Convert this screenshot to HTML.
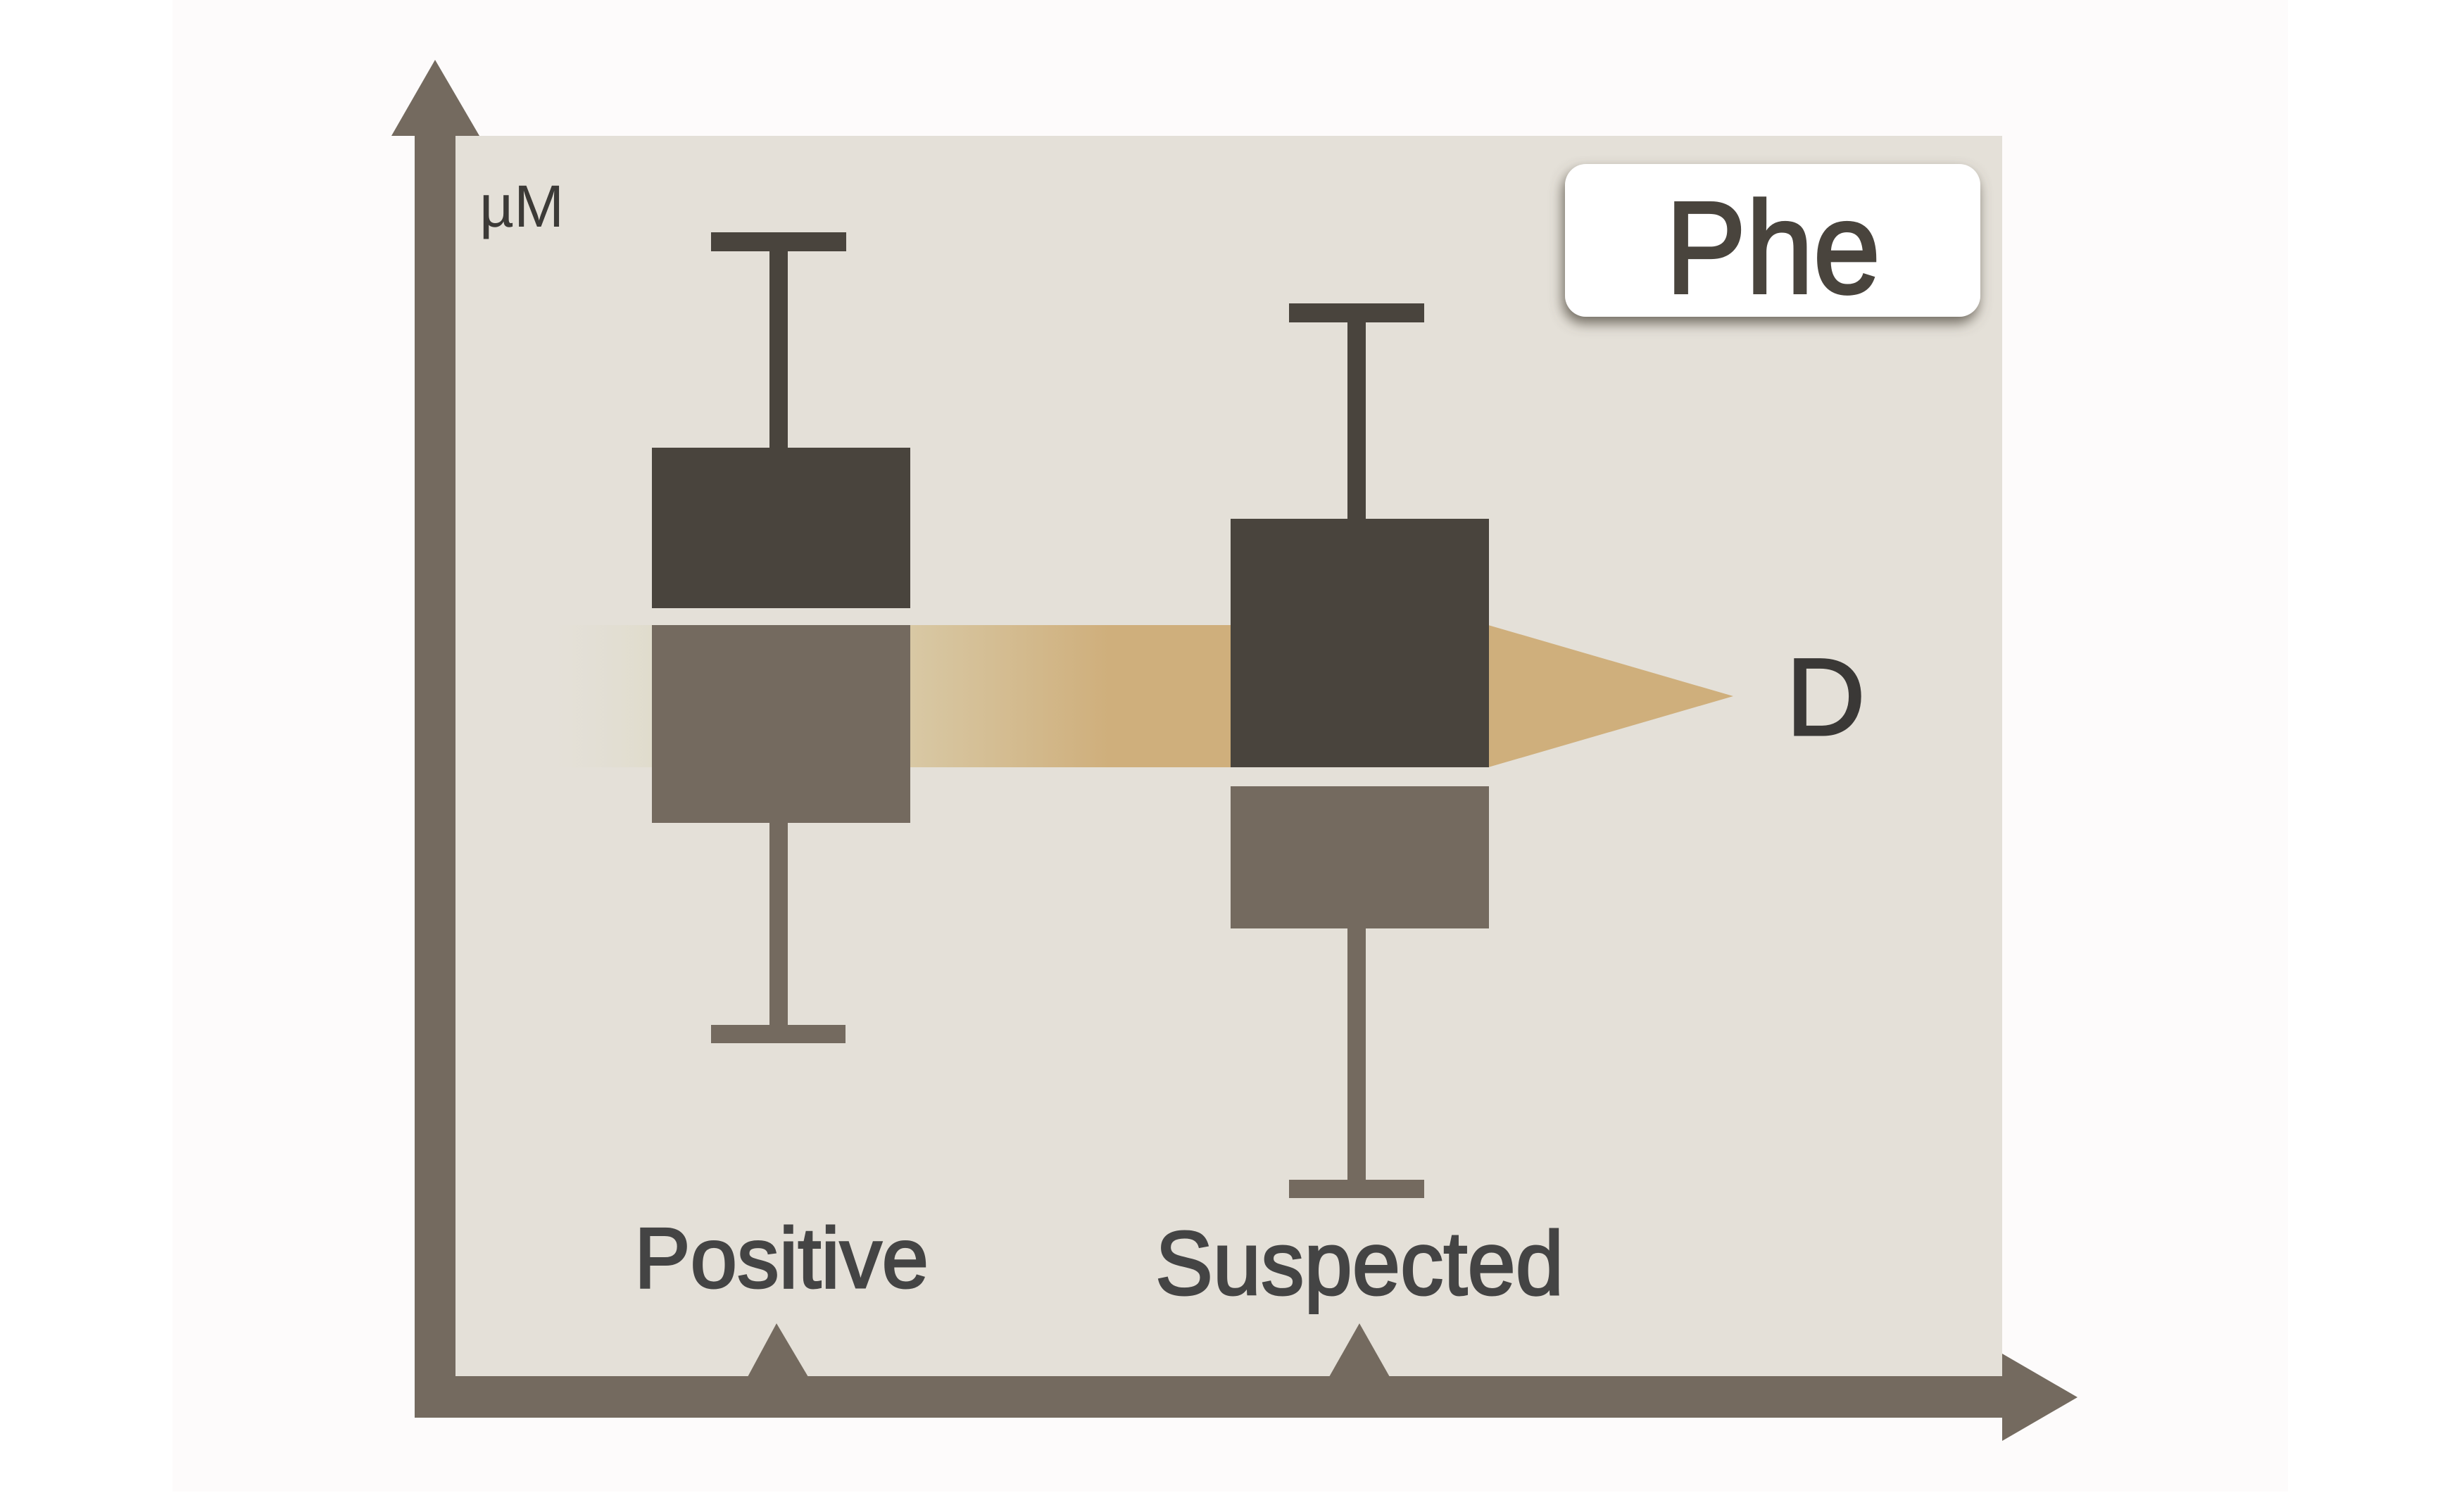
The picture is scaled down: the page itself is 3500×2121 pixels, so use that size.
<!DOCTYPE html>
<html>
<head>
<meta charset="utf-8">
<style>
  html, body { margin: 0; padding: 0; background: #ffffff; }
  body { width: 3500px; height: 2121px; overflow: hidden; }
  svg { display: block; }
  text { font-family: "Liberation Sans", "DejaVu Sans", sans-serif; }
</style>
</head>
<body>
<svg width="3500" height="2121" viewBox="0 0 3500 2121" xmlns="http://www.w3.org/2000/svg">
  <defs>
    <linearGradient id="fadeL" x1="0" y1="0" x2="1" y2="0">
      <stop offset="0" stop-color="#e4e0d8" stop-opacity="0"/>
      <stop offset="1" stop-color="#e0dccc" stop-opacity="1"/>
    </linearGradient>
    <linearGradient id="bandM" x1="1293" y1="0" x2="1748" y2="0" gradientUnits="userSpaceOnUse">
      <stop offset="0" stop-color="#d8c8a4"/>
      <stop offset="0.62" stop-color="#cfaf7c"/>
      <stop offset="1" stop-color="#cfaf7c"/>
    </linearGradient>
    <filter id="shadow" x="-10%" y="-20%" width="120%" height="150%">
      <feDropShadow dx="-3" dy="9" stdDeviation="9" flood-color="#5b564b" flood-opacity="0.85"/>
    </filter>
  </defs>

  <!-- page background -->
  <rect x="0" y="0" width="3500" height="2121" fill="#ffffff"/>
  <rect x="245" y="0" width="3005" height="2119" fill="#fdfbfb"/>

  <!-- plot panel -->
  <rect x="647" y="193" width="2197" height="1762" fill="#e4e0d8"/>

  <!-- vertical axis -->
  <rect x="589" y="193" width="58" height="1821" fill="#746a5f"/>
  <polygon points="556,193 618,85 681,193" fill="#746a5f"/>

  <!-- horizontal axis -->
  <rect x="589" y="1955" width="2255" height="59" fill="#746a5f"/>
  <polygon points="2844,1923 2951,1985 2844,2047" fill="#746a5f"/>

  <!-- ticks -->
  <polygon points="1062,1956 1103,1880 1148,1956" fill="#746a5f"/>
  <polygon points="1888,1956 1931,1880 1974,1956" fill="#746a5f"/>

  <!-- band -->
  <rect x="756" y="888" width="170" height="202" fill="url(#fadeL)"/>
  <rect x="1293" y="888" width="455" height="202" fill="url(#bandM)"/>
  <polygon points="2114,888 2462,989 2114,1090" fill="#cfaf7c"/>

  <!-- left box plot (Positive) -->
  <rect x="1010" y="330" width="192" height="27" fill="#49443d"/>
  <rect x="1093" y="356" width="26" height="281" fill="#49443d"/>
  <rect x="926" y="636" width="367" height="228" fill="#49443d"/>
  <rect x="926" y="888" width="367" height="281" fill="#746a5f"/>
  <rect x="1093" y="1168" width="26" height="289" fill="#746a5f"/>
  <rect x="1010" y="1456" width="191" height="26" fill="#746a5f"/>

  <!-- right box plot (Suspected) -->
  <rect x="1831" y="431" width="192" height="27" fill="#49443d"/>
  <rect x="1914" y="457" width="26" height="281" fill="#49443d"/>
  <rect x="1748" y="737" width="367" height="353" fill="#49443d"/>
  <rect x="1748" y="1117" width="367" height="202" fill="#746a5f"/>
  <rect x="1914" y="1318" width="26" height="359" fill="#746a5f"/>
  <rect x="1831" y="1676" width="192" height="26" fill="#746a5f"/>

  <!-- Phe label box -->
  <rect x="2223" y="233" width="590" height="217" rx="30" ry="30" fill="#ffffff" filter="url(#shadow)"/>
  <text x="2366" y="416" font-size="186" fill="#49443d" stroke="#49443d" stroke-width="4" textLength="305" lengthAdjust="spacingAndGlyphs">Phe</text>

  <!-- unit label -->
  <text x="681" y="322" font-size="84" fill="#3c3a37" textLength="120" lengthAdjust="spacingAndGlyphs">µM</text>

  <!-- D label -->
  <text x="2537" y="1044" font-size="156" fill="#3a3836" stroke="#3a3836" stroke-width="3">D</text>

  <!-- category labels -->
  <text x="901" y="1829" font-size="122" fill="#444444" stroke="#444444" stroke-width="3" textLength="418" lengthAdjust="spacingAndGlyphs">Positive</text>
  <text x="1641" y="1839" font-size="128" fill="#444444" stroke="#444444" stroke-width="3" textLength="580" lengthAdjust="spacingAndGlyphs">Suspected</text>
</svg>
</body>
</html>
